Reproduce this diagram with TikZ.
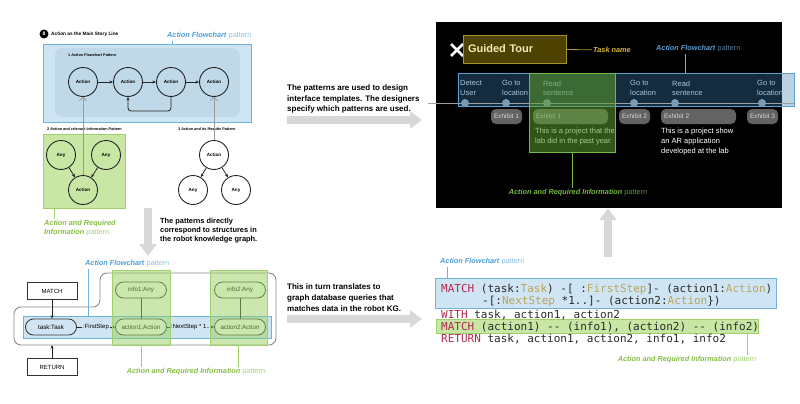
\documentclass[tikz,border=0pt]{standalone}
\usepackage{fontspec}
\setmainfont{Liberation Sans}
\setmonofont{DejaVu Sans Mono}
\usepackage{tikz}
\usetikzlibrary{positioning,arrows.meta,calc}
\usepackage{xcolor}

\definecolor{flowfill}{HTML}{CFE5F3}
\definecolor{flowinner}{HTML}{BFD9E8}
\definecolor{flowline}{HTML}{6DB3DE}
\definecolor{flowtext}{HTML}{4D9FD6}
\definecolor{flowsoft}{HTML}{86BFE4}
\definecolor{infofill}{HTML}{C8E6A4}
\definecolor{infostrong}{HTML}{97D05F}
\definecolor{infoline}{HTML}{9FD06A}
\definecolor{infotext}{HTML}{86BD45}
\definecolor{infosoft}{HTML}{A2CF72}
\definecolor{arrowgray}{HTML}{D8D8D8}
\definecolor{linkgray}{HTML}{9A9A9A}
\definecolor{stripfill}{HTML}{3B7FB0}
\definecolor{stripline}{HTML}{5E9FCF}
\definecolor{striptext}{HTML}{A9C3D8}
\definecolor{dotblue}{HTML}{7A9AB3}
\definecolor{pillgray}{HTML}{636363}
\definecolor{glowgreen}{HTML}{5C9E2E}
\definecolor{glowline}{HTML}{76B843}
\definecolor{glowsoft}{HTML}{5F9638}
\definecolor{tourfill}{HTML}{4D4200}
\definecolor{tourline}{HTML}{A8922E}
\definecolor{tourtext}{HTML}{F2E8B8}
\definecolor{tasktext}{HTML}{D9B83A}
\definecolor{screenblue}{HTML}{5D9BD0}
\definecolor{screensoft}{HTML}{4F7FA6}
\definecolor{kwred}{HTML}{B32A50}
\definecolor{lbltan}{HTML}{BBA55A}
\definecolor{codegray}{HTML}{2A2A2A}

\newcommand{\setfs}[2]{\fontsize{#1}{#2}\selectfont}
\newcommand{\flowtag}[1]{\textbf{\textit{Action Flowchart}} \textcolor{#1}{pattern}}
\newcommand{\infotag}[1]{\textbf{\textit{Action and Required Information}} \textcolor{#1}{pattern}}

\begin{document}
\begin{tikzpicture}[x=1pt,y=-1pt,
  every node/.style={font=\setfs{6}{7}},
  actcirc/.style={circle,draw=black!85,line width=0.9pt,minimum size=29pt,inner sep=0pt,font=\setfs{4.6}{5}\bfseries},
  tinylab/.style={anchor=west,inner sep=0pt,font=\setfs{3.8}{4}\bfseries},
  flow/.style={draw=black!85,line width=0.8pt,-{Stealth[length=3.5pt,width=3pt]}},
  link/.style={draw=linkgray,line width=0.8pt,-{Straight Barb[length=3pt,width=7pt]}},
  flowbox/.style={draw=flowline,fill=flowfill,line width=0.8pt},
  infobox/.style={draw=infoline,fill=infofill,line width=0.8pt},
  infoglass/.style={draw=infoline,fill=infostrong,fill opacity=0.5,line width=0.8pt},
  flowlab/.style={inner sep=1pt,text=flowtext,font=\setfs{7.3}{9}},
  infolab/.style={inner sep=1pt,text=infotext,font=\setfs{7.3}{9}},
  flowedge/.style={draw=flowline,line width=0.8pt},
  infoedge/.style={draw=infoline,line width=0.8pt},
  bigarrow/.style={draw=arrowgray,line width=8pt,-{Triangle[length=12pt,width=17pt]}},
  note/.style={anchor=north west,align=left,inner sep=0pt,font=\setfs{8}{10.5}\bfseries},
  pill/.style={rounded corners=8pt,draw=black!80,fill=white,line width=0.8pt,minimum width=51pt,minimum height=16pt,inner sep=1pt,font=\setfs{6.2}{7}},
  plainbox/.style={draw=black!80,line width=0.7pt,minimum width=50pt,minimum height=17pt,font=\setfs{6}{7}},
  edgelab/.style={fill=flowfill,inner sep=1pt,font=\setfs{6}{7}},
  stepname/.style={anchor=north west,align=left,inner sep=0pt,text=striptext,font=\setfs{7.5}{9.5}},
  dot/.style={circle,fill=dotblue,inner sep=0pt,minimum size=8pt},
  expill/.style={rounded corners=5pt,fill=pillgray,text=white!85!black,inner sep=3pt,minimum height=15pt,font=\setfs{6.5}{7}},
  desc/.style={anchor=north west,align=left,inner sep=0pt,text=white,font=\setfs{7.5}{10}},
  glowbox/.style={fill=glowgreen,fill opacity=0.55,draw=glowline,line width=0.8pt},
  code/.style={anchor=base west,inner sep=0pt,text=codegray,font=\ttfamily\setfs{11}{13}}]
\useasboundingbox (0,0) rectangle (800,404);

% story line patterns
\node[circle,fill=black,inner sep=0pt,minimum size=9pt,text=white,font=\setfs{5}{5}\bfseries] (num) at (44,34) {8};
\node[anchor=west,inner sep=0pt,font=\setfs{4.8}{5}\bfseries] (title) at (51,34) {Action as the Main Story Line};
\node[flowbox,minimum width=208,minimum height=78] (flow1) at (147,83) {};
\node[fill=flowinner,rounded corners=8pt,minimum width=185,minimum height=69] (inner1) at (147.5,82.5) {};
\node[tinylab] (pat1) at (68,55) {1 Action Flowchart Pattern};
\node[actcirc] (a1) at (83,82) {Action};
\node[actcirc] (a2) at (128,82) {Action};
\node[actcirc] (a3) at (171,82) {Action};
\node[actcirc] (a4) at (214,82) {Action};
\draw[flow] (a1) -- (a2);
\draw[flow] (a2) -- (a3);
\draw[flow] (a3) -- (a4);
\draw[flow,rounded corners=3pt] (a3.south) -- ++(0,14) -| (a2.south);
\node[flowlab,anchor=west] (fl1) at (166,36) {\flowtag{flowsoft}};
\draw[flowedge] ([xshift=6pt]fl1.south west) -- ([xshift=6pt]fl1.south west |- flow1.north);

\node[tinylab] (pat2) at (47,129) {2 Action and relevant Information Pattern};
\node[tinylab] (pat3) at (178,129) {3 Action and its Results Pattern};
\node[infobox,minimum width=82,minimum height=74] (info1) at (84,171) {};
\node[actcirc] (any1) at (61,155) {Any};
\node[actcirc] (any2) at (106,155) {Any};
\node[actcirc] (act5) at (83,190) {Action};
\node[actcirc] (act6) at (214,155) {Action};
\node[actcirc] (any3) at (193,190) {Any};
\node[actcirc] (any4) at (236,190) {Any};
\draw[flow] (any1) -- (act5);
\draw[flow] (any2) -- (act5);
\draw[flow] (act6) -- (any3);
\draw[flow] (act6) -- (any4);
\draw[link] (act5) -- (a1);
\draw[link] (act6) -- (a4);
\node[infolab,anchor=north west,align=left] (il1) at (43,219) {\textbf{\textit{Action and Required}}\\\textbf{\textit{Information}} \textcolor{infosoft}{pattern}};
\draw[infoedge] ([xshift=12pt]info1.south west) -- ([xshift=12pt]info1.south west |- il1.north);

% down to the knowledge graph
\coordinate (down1) at (148,208);
\coordinate (down2) at (148,256);
\draw[bigarrow] (down1) -- (down2);
\node[note,font=\setfs{7.4}{8.8}\bfseries] (n1) at (160,218) {The patterns directly\\correspond to structures in\\the robot knowledge graph.};

% knowledge graph
\draw[draw=black!45,line width=0.9pt,rounded corners=7pt] (14,307) -- (100,307) -- (100,273) -- (276,273) -- (276,345) -- (14,345) -- cycle;
\node[flowbox,minimum width=248,minimum height=22] (flow4) at (147,327) {};
\node[pill,fill=flowfill] (task) at (51,327) {task:Task};
\node[pill] (act1) at (141,327) {action1:Action};
\node[pill] (act2) at (240,327) {action2:Action};
\node[pill] (inf1) at (141,290) {info1:Any};
\node[pill] (inf2) at (240,290) {info2:Any};
\draw[flow] (task) -- node[edgelab] (e1) {:FirstStep} (act1);
\draw[flow] (act1) -- node[edgelab] (e2) {:NextStep * 1..} (act2);
\draw[draw=black!85,line width=0.8pt] (inf1) -- (act1);
\draw[draw=black!85,line width=0.8pt] (inf2) -- (act2);
\node[plainbox] (match) at (52,291) {MATCH};
\node[plainbox] (ret) at (52,367) {RETURN};
\coordinate (outb) at (52,345);
\draw[flow] (match) -- (match |- task.north);
\draw[flow] (ret) -- (outb);
\node[infoglass,minimum width=58,minimum height=75] (hl1) at (141,307.5) {};
\node[infoglass,minimum width=57,minimum height=75] (hl2) at (238.5,307.5) {};
\node[flowlab,anchor=west] (fl4) at (84,264) {\flowtag{flowsoft}};
\draw[flowedge] ([xshift=4pt]fl4.south west) -- ([xshift=4pt]fl4.south west |- flow4.north);
\node[infolab] (il4) at (196,372) {\infotag{infosoft}};
\draw[infoedge] (hl1.south) -- (hl1.south |- il4.north);
\draw[infoedge] (hl2.south) -- (hl2.south |- il4.north);

% arrows to the right
\node[note] (n2) at (287,85) {The patterns are used to design\\interface templates. The designers\\specify which patterns are used.};
\coordinate (right1) at (287,120);
\coordinate (right2) at (422,120);
\draw[bigarrow] (right1) -- (right2);
\node[note] (n3) at (287,284) {This in turn translates to\\graph database queries that\\matches data in the robot KG.};
\coordinate (right3) at (287,319);
\coordinate (right4) at (422,319);
\draw[bigarrow] (right3) -- (right4);

% interface screen
\node[fill=black,minimum width=346,minimum height=186,inner sep=0pt] (screen) at (609,115) {};
\draw[white,line width=2.6pt] (451,44) -- (463,56) (451,56) -- (463,44);
\node[draw=tourline,fill=tourfill,line width=0.8pt,text=tourtext,text width=93pt,inner sep=5pt,minimum height=28pt,align=left,font=\setfs{11}{12}\bfseries] (tour) at (514.5,49) {Guided Tour};
\node[anchor=west,inner sep=1pt,text=tasktext,font=\setfs{7.3}{9}] (tname) at (592,50) {\textbf{\textit{Task name}}};
\draw[draw=tourline,line width=0.8pt] (tour) -- (tname);
\node[fill=stripfill,fill opacity=0.35,draw=stripline,line width=0.8pt,minimum width=336,minimum height=33] (strip) at (626,89.5) {};
\node[flowlab,anchor=west,text=screenblue] (fl2) at (655,49) {\flowtag{screensoft}};
\draw[flowedge] ([xshift=30pt]fl2.south west) -- ([xshift=30pt]fl2.south west |- strip.north);
\coordinate (lineL) at (428,103);
\coordinate (lineR) at (794,103);
\draw[draw=gray!75,line width=0.8pt] (lineL) -- (lineR);
\foreach \x [count=\i] in {465,506,547,634,675,762}
  \node[dot] (dot\i) at (\x,103) {};
\foreach \x/\txt [count=\i] in {460/{Detect\\User},502/{Go to\\location},543/{Read\\sentence},630/{Go to\\location},672/{Read\\sentence},757/{Go to\\location}}
  \node[stepname] (sn\i) at (\x,80.5) {\txt};
\node[expill,minimum width=31] (ex1) at (506.5,116.5) {Exhibit 1};
\node[expill,text width=69,align=left] (ex1b) at (570.5,116.5) {Exhibit 1};
\node[expill,minimum width=31] (ex2) at (634.5,116.5) {Exhibit 2};
\node[expill,text width=69,align=left] (ex2b) at (698.5,116.5) {Exhibit 2};
\node[expill,minimum width=31] (ex3) at (762.5,116.5) {Exhibit 3};
\node[desc] (txt1) at (535,128) {This is a project that the\\lab did in the past year.};
\node[desc] (txt2) at (661,128) {This is a project show\\an AR application\\developed at the lab};
\node[glowbox,minimum width=86,minimum height=79] (hl3) at (572,112.5) {};
\node[infolab,text=glowline] (il3) at (578,193) {\infotag{glowsoft}};
\draw[draw=glowline,line width=0.8pt] (hl3.south) -- (hl3.south |- il3.north);

% up from the query
\coordinate (up1) at (608,257);
\draw[bigarrow] (up1) -- (up1 |- screen.south);

% graph query
\node[flowlab,anchor=west] (fl5) at (439,262) {\flowtag{flowsoft}};
\node[flowbox,minimum width=341,minimum height=30] (flow5) at (605.5,293) {};
\draw[flowedge] ([xshift=8pt]fl5.south west) -- ([xshift=8pt]fl5.south west |- flow5.north);
\node[infobox,minimum width=322,minimum height=14] (hl5) at (597,326) {};
\node[code] (c1) at (441,292) {\textcolor{kwred}{MATCH} (task:\textcolor{lbltan}{Task}) -[ :\textcolor{lbltan}{FirstStep}]- (action1:\textcolor{lbltan}{Action})};
\node[code] (c2) at (482,304) {-[:\textcolor{lbltan}{NextStep} *1..]- (action2:\textcolor{lbltan}{Action}\})};
\node[code] (c3) at (441,318) {\textcolor{kwred}{WITH} task, action1, action2};
\node[code] (c4) at (441,330) {\textcolor{kwred}{MATCH} (action1) -{}- (info1), (action2) -{}- (info2)};
\node[code] (c5) at (441,342) {\textcolor{kwred}{RETURN} task, action1, action2, info1, info2};
\node[infolab] (il5) at (687,360) {\infotag{infosoft}};
\draw[infoedge] ([xshift=-11pt]hl5.south east) -- ([xshift=-11pt]hl5.south east |- il5.north);
\end{tikzpicture}
\end{document}
